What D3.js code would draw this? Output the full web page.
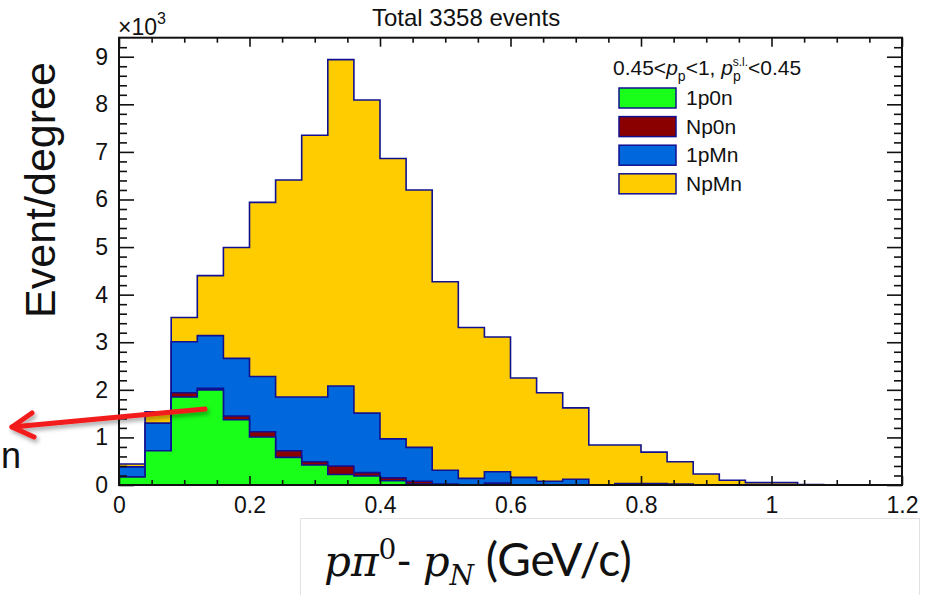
<!DOCTYPE html>
<html>
<head>
<meta charset="utf-8">
<script src="https://cdn.jsdelivr.net/npm/d3@7"></script>
<style>
  body { margin: 0; background: #fff; }
  text { font-family: "Liberation Sans", Arial, sans-serif; }
</style>
</head>
<body>
<svg id="chart" width="927" height="595"></svg>
<script>
// bins of 0.04 GeV/c from 0 to 1.2, values in units of 10^3
const binLow = d3.range(30).map(i => +(i * 0.04).toFixed(2));
const binWidth = 0.04;
const seriesNames = ['1p0n', 'Np0n', '1pMn', 'NpMn'];
const v1p0n = [0.17, 0.72, 1.85, 2.00, 1.37, 1.01, 0.58, 0.42, 0.22, 0.19, 0.09, 0.02, 0, 0, 0, 0, 0, 0, 0, 0, 0, 0, 0, 0, 0, 0, 0, 0, 0, 0];
const vNp0n = [0, 0, 0.09, 0.03, 0.08, 0.11, 0.14, 0.07, 0.18, 0.07, 0.06, 0.06, 0.02, 0, 0.04, 0, 0, 0, 0, 0, 0, 0, 0, 0, 0, 0, 0, 0, 0, 0];
const v1pMn = [0.21, 0.58, 1.07, 1.11, 1.21, 1.16, 1.13, 1.36, 1.68, 1.25, 0.82, 0.71, 0.29, 0.14, 0.24, 0.16, 0.08, 0.12, 0, 0.03, 0.03, 0.02, 0, 0, 0, 0, 0, 0, 0, 0];
const vNpMn = [0.06, 0.24, 0.51, 1.26, 2.33, 3.66, 4.56, 5.50, 6.86, 6.58, 5.89, 5.41, 3.96, 3.17, 2.83, 2.09, 1.86, 1.50, 0.84, 0.81, 0.66, 0.47, 0.23, 0.10, 0.05, 0.05, 0.01, 0, 0, 0];
const xTicks = [0, 0.2, 0.4, 0.6, 0.8, 1, 1.2];
const yTicks = [0, 1, 2, 3, 4, 5, 6, 7, 8, 9];

const colors = { '1p0n': '#1aff1a', 'Np0n': '#8a0000', '1pMn': '#0068dc', 'NpMn': '#ffcc00' };
const lineCol = '#101090';

const svg = d3.select('#chart');
const fLeft = 119, fRight = 902, fTop = 37.7, fBottom = 485;

const x = d3.scaleLinear().domain([0, 1.2]).range([fLeft, fRight]);
const y = d3.scaleLinear().domain([0, 9.4]).range([fBottom, fTop]);

const rows = binLow.map((b, i) => ({
    x: b, '1p0n': v1p0n[i], 'Np0n': vNp0n[i], '1pMn': v1pMn[i], 'NpMn': vNpMn[i]
}));
const stacked = d3.stack().keys(seriesNames)(rows);

const area = d3.area().curve(d3.curveStepAfter)
    .x(d => x(d.x)).y0(y(0)).y1(d => y(d.top));
const outline = d3.line().curve(d3.curveStepAfter)
    .x(d => x(d.x)).y(d => y(d.top));

// draw the biggest cumulative first, like a stack of histograms
const hist = svg.append('g');
stacked.slice().reverse().forEach(s => {
    const pts = s.map(d => ({ x: d.data.x, top: d[1] }));
    pts.push({ x: pts[pts.length - 1].x + binWidth, top: pts[pts.length - 1].top });
    hist.append('path').attr('d', area(pts)).attr('fill', colors[s.key]);
    const line = [{ x: 0, top: 0 }].concat(pts, [{ x: 1.2, top: 0 }]);
    hist.append('path').attr('d', outline(line))
        .attr('fill', 'none').attr('stroke', lineCol).attr('stroke-width', 1.6);
});

// axes, ROOT style ticks inside the frame
const fmt = d3.format('~g');
const minorX = d3.range(0, 1.2001, 0.05).map(v => +v.toFixed(2)).filter(v => !xTicks.includes(v));
const minorY = d3.range(0, 9.4, 0.2).map(v => +v.toFixed(1)).filter(v => !yTicks.includes(v));

function style(g) {
    g.select('.domain').remove();
    g.selectAll('line').attr('stroke', '#111').attr('stroke-width', 1.6);
    g.selectAll('text').attr('font-size', 23).attr('fill', '#111')
        .attr('font-family', '"Liberation Sans", Arial, sans-serif');
}

svg.append('g').attr('transform', `translate(0,${fBottom})`)
    .call(d3.axisBottom(x).tickValues(xTicks).tickSize(-9).tickPadding(12).tickFormat(fmt)).call(style);
svg.append('g').attr('transform', `translate(0,${fBottom})`)
    .call(d3.axisBottom(x).tickValues(minorX).tickSize(-5).tickFormat('')).call(style);
svg.append('g').attr('transform', `translate(0,${fTop})`)
    .call(d3.axisTop(x).tickValues(xTicks).tickSize(-9).tickFormat('')).call(style);
svg.append('g').attr('transform', `translate(0,${fTop})`)
    .call(d3.axisTop(x).tickValues(minorX).tickSize(-5).tickFormat('')).call(style);
svg.append('g').attr('transform', `translate(${fLeft},0)`)
    .call(d3.axisLeft(y).tickValues(yTicks).tickSize(-15).tickPadding(11).tickFormat(fmt)).call(style);
svg.append('g').attr('transform', `translate(${fLeft},0)`)
    .call(d3.axisLeft(y).tickValues(minorY).tickSize(-8).tickFormat('')).call(style);
svg.append('g').attr('transform', `translate(${fRight},0)`)
    .call(d3.axisRight(y).tickValues(yTicks).tickSize(-15).tickFormat('')).call(style);
svg.append('g').attr('transform', `translate(${fRight},0)`)
    .call(d3.axisRight(y).tickValues(minorY).tickSize(-8).tickFormat('')).call(style);

svg.append('rect').attr('x', fLeft).attr('y', fTop)
    .attr('width', fRight - fLeft).attr('height', fBottom - fTop)
    .attr('fill', 'none').attr('stroke', '#111').attr('stroke-width', 2);

// title and exponent
svg.append('text').attr('x', 372).attr('y', 26).attr('font-size', 24).attr('fill', '#111').text('Total 3358 events');
const ex = svg.append('text').attr('x', 118).attr('y', 35).attr('font-size', 23).attr('fill', '#111');
ex.append('tspan').text('×10');
ex.append('tspan').attr('dy', -11).attr('font-size', 16).text('3');

// y label
svg.append('text')
    .attr('transform', 'translate(55,190) rotate(-90)')
    .attr('text-anchor', 'middle').attr('font-size', 43).attr('fill', '#111')
    .text('Event/degree');

// legend
const leg = svg.append('g');
const hdr = leg.append('text').attr('x', 613).attr('y', 75).attr('font-size', 21).attr('fill', '#111');
hdr.append('tspan').text('0.45<');
hdr.append('tspan').attr('font-style', 'italic').text('p');
hdr.append('tspan').attr('font-size', 14).attr('dy', 6).text('p');
hdr.append('tspan').attr('dy', -6).text('<1, ');
hdr.append('tspan').attr('font-style', 'italic').text('p');
hdr.append('tspan').attr('font-size', 14).attr('dy', 6).text('p');
hdr.append('tspan').attr('font-size', 12).attr('dy', -15).attr('dx', -8).text('s.l.');
hdr.append('tspan').attr('dy', 9).text('<0.45');

seriesNames.forEach((k, i) => {
    const yy = 88 + i * 28.6;
    leg.append('rect').attr('x', 619).attr('y', yy).attr('width', 57).attr('height', 20)
        .attr('fill', colors[k]).attr('stroke', lineCol).attr('stroke-width', 1.5);
    leg.append('text').attr('x', 686).attr('y', yy + 17).attr('font-size', 21).attr('fill', '#111').text(k);
});

// x label in its white box
svg.append('rect').attr('x', 300.5).attr('y', 518.5).attr('width', 619).attr('height', 90)
    .attr('fill', '#fff').attr('stroke', '#e2e2e2').attr('stroke-width', 1);
const mathFont = '"DejaVu Serif", serif';
const xl = svg.append('text').attr('x', 324).attr('y', 576).attr('font-size', 42).attr('fill', '#111');
xl.append('tspan').attr('font-family', mathFont).attr('font-style', 'italic').text('pπ');
xl.append('tspan').attr('font-family', mathFont).attr('font-size', 28).attr('dy', -17).text('0');
xl.append('tspan').attr('dy', 17).attr('font-family', 'Lato, sans-serif').text('- ');
xl.append('tspan').attr('font-family', mathFont).attr('font-style', 'italic').text('p');
xl.append('tspan').attr('font-family', mathFont).attr('font-style', 'italic').attr('font-size', 28).attr('dy', 9).text('N');
xl.append('tspan').attr('dy', -9).attr('font-family', 'Lato, sans-serif').attr('font-size', 46).text(' (GeV/c)');

// red annotation arrow with soft shadow
const defs = svg.append('defs');
const f = defs.append('filter').attr('id', 'sh').attr('x', '-20%').attr('y', '-50%').attr('width', '140%').attr('height', '200%');
f.append('feDropShadow').attr('dx', 2).attr('dy', 3).attr('stdDeviation', 2).attr('flood-color', '#000').attr('flood-opacity', 0.35);
const arr = svg.append('g').attr('filter', 'url(#sh)')
    .attr('stroke', '#f21c1c').attr('stroke-width', 5).attr('stroke-linecap', 'round').attr('fill', 'none');
arr.append('path').attr('d', 'M205,409 L12,427');
arr.append('path').attr('d', 'M32,413 L12,427 L34,437').attr('stroke-linejoin', 'round');

svg.append('text').attr('x', 1).attr('y', 468).attr('font-size', 36).attr('fill', '#111').text('n');
</script>
</body>
</html>
